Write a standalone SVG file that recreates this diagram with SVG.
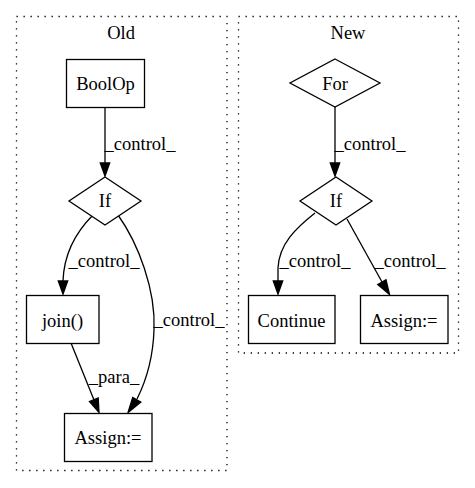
<svg xmlns="http://www.w3.org/2000/svg" width="475" height="488" viewBox="0 0 475 488">
  <style>
    text { font-family: "Liberation Serif", "Times New Roman", serif; font-size: 18.5px; fill: #000; text-anchor: middle; }
    .cluster { fill: none; stroke: #000; stroke-width: 1.3; stroke-dasharray: 1.3,5.7; }
    .node { fill: #fff; stroke: #000; stroke-width: 1.3; }
    .edge { fill: none; stroke: #000; stroke-width: 1.3; }
    .head { fill: #000; stroke: #000; stroke-width: 1.3; }
  </style>
  <rect width="475" height="488" fill="#fff"/>

  <!-- clusters -->
  <g id="cluster_old">
    <rect class="cluster" x="16.5" y="16.5" width="210.5" height="454"/>
    <text x="121" y="39">Old</text>
  </g>
  <g id="cluster_new">
    <rect class="cluster" x="238.5" y="16.5" width="220" height="336.5"/>
    <text x="348" y="39">New</text>
  </g>

  <!-- connectors -->
  <g id="edges">
    <!-- Old: BoolOp -> If -->
    <path class="edge" d="M105,107 L105,163"/>
    <polygon class="head" points="100.3,163 105,176 109.7,163"/>
    <text x="140" y="150">_control_</text>

    <!-- Old: If -> join() -->
    <path class="edge" d="M93,215 C78,230 64,252 63,281"/>
    <polygon class="head" points="58.3,281 63,294 67.7,281"/>
    <text x="104" y="267">_control_</text>

    <!-- Old: If -> Assign:= -->
    <path class="edge" d="M118,215 C138,243 156,290 154,330 C153,360 145,383 137,399"/>
    <polygon class="head" points="132.7,397.5 128,412.5 140.8,402"/>
    <text x="189" y="326">_control_</text>

    <!-- Old: join() -> Assign:= -->
    <path class="edge" d="M71,343 L94,400"/>
    <polygon class="head" points="89.5,401.5 99,412.5 98.2,398"/>
    <text x="114" y="383">_para_</text>

    <!-- New: For -> If -->
    <path class="edge" d="M335,107 L335,163"/>
    <polygon class="head" points="330.3,163 335,176 339.7,163"/>
    <text x="370" y="150">_control_</text>

    <!-- New: If -> Continue -->
    <path class="edge" d="M315,213 C296,228 279,244 278,268 L278,281"/>
    <polygon class="head" points="273.3,281 278,294 282.7,281"/>
    <text x="315" y="267">_control_</text>

    <!-- New: If -> Assign:= -->
    <path class="edge" d="M347,219 L382,282"/>
    <polygon class="head" points="377.7,284.5 389.5,294.5 386,279.8"/>
    <text x="410" y="267">_control_</text>
  </g>

  <!-- Old nodes -->
  <g id="old_boolop">
    <rect class="node" x="66.5" y="59.5" width="78" height="48"/>
    <text x="105.5" y="90">BoolOp</text>
  </g>
  <g id="old_if">
    <polygon class="node" points="105,177 141,201 105,225 69,201"/>
    <text x="105" y="207">If</text>
  </g>
  <g id="old_join">
    <rect class="node" x="26.5" y="295.5" width="72.5" height="48"/>
    <text x="62.5" y="327">join()</text>
  </g>
  <g id="old_assign">
    <rect class="node" x="64.5" y="413.5" width="87.5" height="48"/>
    <text x="108" y="444">Assign:=</text>
  </g>

  <!-- New nodes -->
  <g id="new_for">
    <polygon class="node" points="335,59 380,83 335,107 290,83"/>
    <text x="335" y="90">For</text>
  </g>
  <g id="new_if">
    <polygon class="node" points="336,177 372,201 336,225 300,201"/>
    <text x="336" y="207">If</text>
  </g>
  <g id="new_continue">
    <rect class="node" x="248.5" y="295.5" width="86.5" height="48"/>
    <text x="291.5" y="327">Continue</text>
  </g>
  <g id="new_assign">
    <rect class="node" x="360.5" y="295.5" width="87.5" height="48"/>
    <text x="404" y="327">Assign:=</text>
  </g>
</svg>
